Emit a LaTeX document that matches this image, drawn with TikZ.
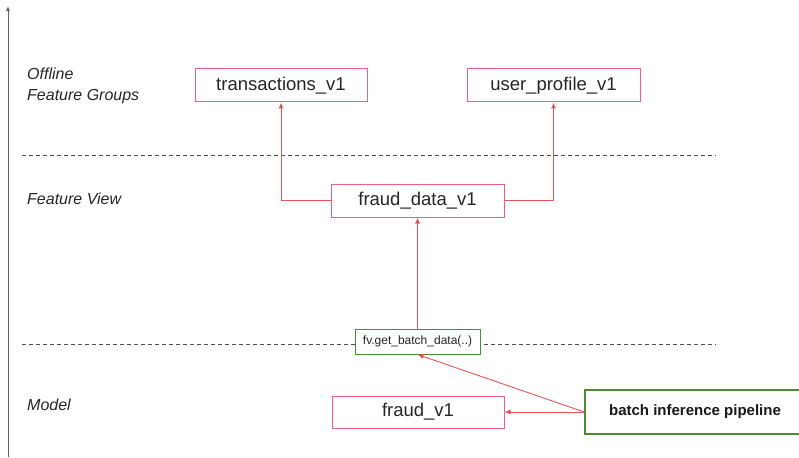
\documentclass[tikz,border=0pt]{standalone}
\usepackage{fontspec}
\setmainfont{Liberation Sans}
\usetikzlibrary{arrows.meta}
\definecolor{boxpink}{RGB}{240,95,135}
\definecolor{arrred}{RGB}{230,85,85}
\definecolor{boxgreen}{RGB}{75,140,50}
\definecolor{axgray}{RGB}{100,100,100}
\begin{document}
\begin{tikzpicture}[x=1pt,y=-1pt,
  fgbox/.style={draw=boxpink,line width=1pt,fill=white,inner sep=0pt,font=\fontsize{18.5}{20}\selectfont,text=black!85},
  fvbox/.style={draw=boxgreen,line width=1pt,fill=white,inner sep=0pt,font=\fontsize{12}{14}\selectfont,text=black!85},
  pipebox/.style={draw=boxgreen,line width=1.6pt,fill=white,inner sep=0pt,font=\bfseries\fontsize{15}{17}\selectfont,text=black!90},
  layerlabel/.style={anchor=west,font=\itshape\fontsize{16}{21}\selectfont,text=black!85,align=left,inner sep=0pt},
  conn/.style={draw=arrred,line width=0.9pt,-{Latex[length=6pt,width=5pt]}},
  sep/.style={draw=black!70,dashed,dash pattern=on 4pt off 3pt,line width=0.6pt}]
\useasboundingbox (0,0) rectangle (799,457);
\begin{scope}
\clip (0,0) rectangle (799,457);
% axis
\coordinate (ax0) at (8,457);
\coordinate (ax1) at (8,6);
\draw[axgray,line width=0.8pt,-{Latex[length=5pt,width=4pt]}] (ax0) -- (ax1);
% separators
\coordinate (s1a) at (22,155); \coordinate (s1b) at (716,155);
\coordinate (s2a) at (22,344); \coordinate (s2b) at (716,344);
\draw[sep] (s1a) -- (s1b);
\draw[sep] (s2a) -- (s2b);
% labels
\node[layerlabel] (lofg) at (27,86) {Offline\\Feature Groups};
\node[layerlabel] (lfv) at (27,199) {Feature View};
\node[layerlabel] (lm) at (27,405) {Model};
% boxes
\node[fgbox,minimum width=172pt,minimum height=33pt] (tr) at (281,85.5) {transactions\_v1};
\node[fgbox,minimum width=173pt,minimum height=33pt] (up) at (553.5,85.5) {user\_profile\_v1};
\node[fgbox,minimum width=173pt,minimum height=33pt] (fd) at (417.5,200.5) {fraud\_data\_v1};
\node[fvbox,minimum width=125pt,minimum height=25pt] (fv) at (417.5,341.5) {fv.get\_batch\_data(..)};
\node[fgbox,minimum width=172pt,minimum height=32pt] (fm) at (418,412) {fraud\_v1};
\node[pipebox,minimum width=220pt,minimum height=44pt] (bp) at (695,412) {batch inference pipeline};
% connectors
\draw[conn] (fd.west) -| (tr.south);
\draw[conn] (fd.east) -| (up.south);
\draw[conn] (fv.north) -- (fd.south);
\draw[conn] (bp.west) -- (fm.east);
\draw[conn] (bp.west) -- (fv.south);
\end{scope}
\end{tikzpicture}
\end{document}
